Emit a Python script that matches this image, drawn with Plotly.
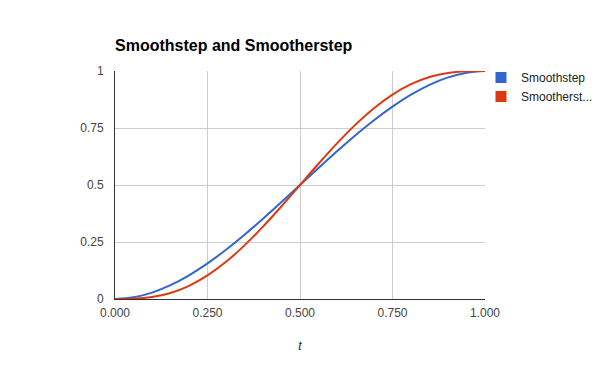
import plotly.graph_objects as go

t = [0.00, 0.05, 0.10, 0.15, 0.20, 0.25, 0.30, 0.35, 0.40, 0.45, 0.50,
     0.55, 0.60, 0.65, 0.70, 0.75, 0.80, 0.85, 0.90, 0.95, 1.00]
smoothstep = [0.0, 0.00725, 0.028, 0.06075, 0.104, 0.15625, 0.216, 0.28175, 0.352, 0.42525, 0.5,
              0.57475, 0.648, 0.71825, 0.784, 0.84375, 0.896, 0.93925, 0.972, 0.99275, 1.0]
smootherstep = [0.0, 0.00116, 0.00856, 0.02661, 0.05792, 0.10352, 0.16308, 0.23517, 0.31744, 0.40687, 0.5,
                0.59313, 0.68256, 0.76483, 0.83692, 0.89648, 0.94208, 0.97339, 0.99144, 0.99884, 1.0]
series_names = ["Smoothstep", "Smootherst..."]
colors = ["#3366CC", "#DC3912"]
x_ticks = [0, 0.25, 0.5, 0.75, 1.0]
y_ticks = [0, 0.25, 0.5, 0.75, 1.0]

FONT = "Arial, Liberation Sans, sans-serif"
W, H = 600, 371
L, R_EDGE = 115, 485

fig = go.Figure()
for ys, name, c in zip([smoothstep, smootherstep], series_names, colors):
    fig.add_trace(go.Scatter(x=t, y=ys, mode="lines", line=dict(color=c, width=2, shape="spline"),
                             showlegend=False, hoverinfo="skip"))
for name, c in zip(series_names, colors):
    fig.add_trace(go.Scatter(x=[None], y=[None], mode="markers", name=name,
                             marker=dict(symbol="square", size=11, color=c)))

paper_w = W - L
fig.update_layout(
    width=W, height=H,
    margin=dict(l=L, r=0, t=71, b=72, autoexpand=False),
    paper_bgcolor="white", plot_bgcolor="white",
    font=dict(family=FONT, size=12, color="#444444"),
    title=dict(text="<b>Smoothstep and Smootherstep</b>", x=115/600, xanchor="left",
               xref="container", y=1-45/371, yanchor="middle", yref="container",
               font=dict(family=FONT, size=16, color="#000000")),
    legend=dict(x=(481 - L)/paper_w, y=1.035,
                xanchor="left", yanchor="top", font=dict(size=12, color="#222222"),
                itemwidth=30, tracegroupgap=0, bgcolor="rgba(0,0,0,0)"),
    xaxis=dict(range=[0, 1], domain=[0, (R_EDGE - L)/paper_w], tickvals=x_ticks, tickformat=".3f",
               showgrid=True, gridcolor="#cccccc",
               showline=True, linecolor="#333333", linewidth=1, zeroline=False, ticks="",
               ticklabelstandoff=3,
               title=dict(text="<i>t</i>", font=dict(size=12, color="#222222"), standoff=22),
               fixedrange=True),
    yaxis=dict(range=[0, 1], tickvals=y_ticks, showgrid=True, gridcolor="#cccccc",
               showline=True, linecolor="#333333", linewidth=1, zeroline=False, ticks="",
               ticklabelstandoff=8, fixedrange=True),
)
fig.write_html("out.html")
